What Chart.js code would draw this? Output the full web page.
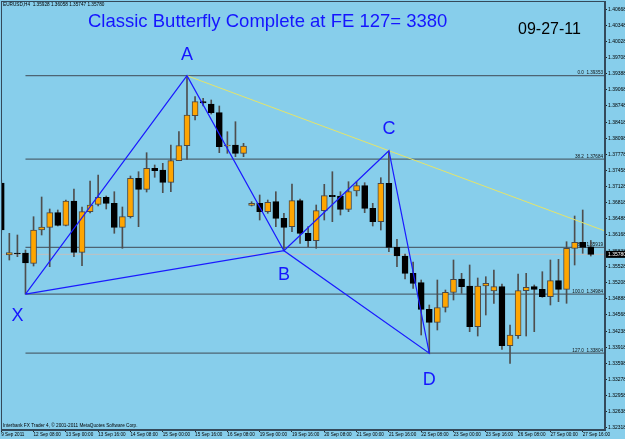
<!DOCTYPE html>
<html>
<head>
<meta charset="utf-8">
<script src="https://cdn.jsdelivr.net/npm/chart.js@4.4.0/dist/chart.umd.min.js"></script>
<style>
  html, body { margin: 0; padding: 0; background: #87ceeb; }
  #chart { display: block; }
</style>
</head>
<body>
<canvas id="chart" width="625" height="439"></canvas>
<script>
// EURUSD H4, 9 Sep 16:00 -> 27 Sep 20:00 2011 (first bar is cut by the left edge)
const opens = [1.37207, 1.35767, 1.35807, 1.35807, 1.35601, 1.36267, 1.36321, 1.36613, 1.36361, 1.36847,
  1.35821, 1.36633, 1.36781, 1.36921, 1.36801, 1.36321, 1.36533, 1.37301, 1.37081, 1.37501,
  1.37467, 1.37221, 1.37653, 1.37953, 1.38553, 1.38833, 1.38787, 1.38613, 1.37947, 1.37967,
  1.37801, 1.36761, 1.36801, 1.36633, 1.36833, 1.36501, 1.36333, 1.36853, 1.36201, 1.36053,
  1.36653, 1.36961, 1.36947, 1.36681, 1.37047, 1.37153, 1.36701, 1.36433, 1.37201, 1.35921,
  1.35747, 1.35401, 1.35213, 1.34681, 1.34421, 1.34721, 1.35021, 1.35287, 1.35147, 1.34333,
  1.35147, 1.35047, 1.35133, 1.33953, 1.34153, 1.35053, 1.35133, 1.35081, 1.34933, 1.35253,
  1.35081, 1.35901, 1.36021, 1.35928]
const highs = [1.37267, 1.36201, 1.36167, 1.35867, 1.36533, 1.36927, 1.36687, 1.36667, 1.36867, 1.37087,
  1.36727, 1.37247, 1.37367, 1.36947, 1.37033, 1.36727, 1.37347, 1.37433, 1.37813, 1.37567,
  1.37601, 1.37967, 1.38233, 1.39353, 1.38933, 1.38901, 1.38867, 1.38747, 1.38233, 1.38433,
  1.38001, 1.36833, 1.36967, 1.36867, 1.37033, 1.36601, 1.37187, 1.36887, 1.36333, 1.36767,
  1.37181, 1.37433, 1.37033, 1.37233, 1.37233, 1.37213, 1.36801, 1.37313, 1.37853, 1.36081,
  1.35787, 1.35627, 1.35267, 1.34767, 1.35267, 1.35067, 1.35667, 1.35401, 1.35567, 1.35307,
  1.35333, 1.35467, 1.35187, 1.34367, 1.35387, 1.35401, 1.35167, 1.35433, 1.35667, 1.35681,
  1.36033, 1.36547, 1.36667, 1.36058]
const lows = [1.36207, 1.35667, 1.35733, 1.34984, 1.35547, 1.36167, 1.35533, 1.36347, 1.36347, 1.35733,
  1.35553, 1.36607, 1.36747, 1.36687, 1.36201, 1.35901, 1.36507, 1.36333, 1.37027, 1.37321,
  1.37013, 1.37033, 1.37687, 1.37681, 1.38467, 1.38747, 1.38587, 1.37813, 1.37801, 1.37733,
  1.37733, 1.36747, 1.36467, 1.36601, 1.36333, 1.35853, 1.36233, 1.36001, 1.35933, 1.35901,
  1.36467, 1.36433, 1.36567, 1.36633, 1.36947, 1.36613, 1.36347, 1.36267, 1.35833, 1.35533,
  1.35287, 1.35101, 1.34167, 1.33804, 1.34267, 1.34627, 1.34867, 1.35001, 1.34233, 1.34147,
  1.34567, 1.34801, 1.33881, 1.33601, 1.34101, 1.34147, 1.34233, 1.34921, 1.34767, 1.34833,
  1.34801, 1.35567, 1.35801, 1.35747]
const closes = [1.36267, 1.35813, 1.35787, 1.35607, 1.36267, 1.36327, 1.36613, 1.36361, 1.36847, 1.35821,
  1.36633, 1.36767, 1.36921, 1.36801, 1.36321, 1.36533, 1.37301, 1.37081, 1.37501, 1.37453,
  1.37221, 1.37653, 1.37953, 1.38567, 1.38833, 1.38807, 1.38613, 1.37933, 1.37967, 1.37801,
  1.37947, 1.36801, 1.36633, 1.36821, 1.36501, 1.36321, 1.36853, 1.36201, 1.36053, 1.36653,
  1.36953, 1.36933, 1.36681, 1.37033, 1.37153, 1.36701, 1.36433, 1.37201, 1.35921, 1.35747,
  1.35401, 1.35201, 1.34681, 1.34421, 1.34713, 1.35021, 1.35281, 1.35133, 1.34333, 1.35147,
  1.35201, 1.35133, 1.33953, 1.34167, 1.35053, 1.35121, 1.35081, 1.34933, 1.35253, 1.35081,
  1.35901, 1.36021, 1.35921, 1.35780]
const firstBar = -1

// butterfly pivots: bar index and price
const pivotNames = ['X', 'A', 'B', 'C', 'D']
const pivotBars = [2, 22, 34, 47, 52]
const pivotPrices = [1.34984, 1.39353, 1.35853, 1.37853, 1.33804]

// fibo object drawn from X
const fibLevels = [0.0, 38.2, 78.6, 100.0, 127.0]
const fibPrices = [1.39353, 1.37684, 1.35919, 1.34984, 1.33804]

const xTickBars = [-1, 3, 7, 11, 15, 19, 23, 27, 31, 35, 39, 43, 47, 51, 55, 59, 63, 67, 71]
const xTickText = ['9 Sep 2011', '12 Sep 08:00', '13 Sep 00:00', '13 Sep 16:00', '14 Sep 08:00', '15 Sep 00:00',
  '15 Sep 16:00', '16 Sep 08:00', '19 Sep 00:00', '19 Sep 16:00', '20 Sep 08:00', '21 Sep 00:00',
  '21 Sep 16:00', '22 Sep 08:00', '23 Sep 00:00', '23 Sep 16:00', '26 Sep 08:00', '27 Sep 00:00', '27 Sep 16:00']
const yTicks = [1.40668, 1.40348, 1.40028, 1.39708, 1.39388, 1.39068, 1.38748, 1.38418, 1.38098, 1.37778,
  1.37458, 1.37128, 1.36818, 1.36488, 1.36168, 1.35838, 1.35528, 1.35208, 1.34888, 1.34568,
  1.34238, 1.33918, 1.33598, 1.33278, 1.32958, 1.32638, 1.32318]

const xMin = -1.031, xMax = 73.76
const yMin = 1.32267, yMax = 1.40847

const ORANGE = '#ffa500'
const bars = opens.map((o, i) => i + firstBar)
const bodies = opens.map((o, i) => ({ x: bars[i], y: [o, closes[i]] }))
const wicks = opens.map((o, i) => ({ x: bars[i], y: [lows[i], highs[i]] }))
const bull = opens.map((o, i) => closes[i] >= o)

const pv = pivotNames.map((n, i) => ({ x: pivotBars[i], y: pivotPrices[i] }))
// X-A-B-C-D, then D-B and B-X
const patternPath = [pv[0], pv[1], pv[2], pv[3], pv[4], pv[2], pv[0]]
// A-C trend line extended to the right edge
const acSlope = (pv[3].y - pv[1].y) / (pv[3].x - pv[1].x)
const acRay = [pv[1], { x: xMax, y: pv[1].y + acSlope * (xMax - pv[1].x) }]
const lastClose = closes[closes.length - 1]

const fibSets = fibPrices.map(p => ({
  type: 'line',
  data: [{ x: pivotBars[0], y: p }, { x: xMax, y: p }],
  borderColor: '#4d6473', borderWidth: 1.2, pointRadius: 0
}))

const decor = {
  id: 'decor',
  beforeDatasetsDraw(chart) {
    const { ctx, chartArea: a, scales: { y } } = chart
    ctx.save()
    ctx.font = '4.6px Arial'
    ctx.fillStyle = '#111'
    ctx.textAlign = 'right'
    fibLevels.forEach((lv, k) => {
      ctx.fillText(lv.toFixed(1) + '  ' + fibPrices[k].toFixed(5), a.right - 2, y.getPixelForValue(fibPrices[k]) - 1.5)
    })
    ctx.restore()
  },
  afterDatasetsDraw(chart) {
    const { ctx, chartArea: a, scales: { x, y } } = chart
    ctx.save()
    // frame
    ctx.strokeStyle = '#34495a'
    ctx.lineWidth = 1
    ctx.strokeRect(a.left + 0.5, a.top + 0.5, a.right - a.left - 1, a.bottom - a.top - 1)
    // pivot letters
    const offs = { X: [-8, 27], A: [0, -16], B: [0, 29], C: [0, -17], D: [0, 32] }
    ctx.font = '18px Arial'
    ctx.fillStyle = '#1515ff'
    ctx.textAlign = 'center'
    pivotNames.forEach((n, i) => {
      ctx.fillText(n, x.getPixelForValue(pivotBars[i]) + offs[n][0], y.getPixelForValue(pivotPrices[i]) + offs[n][1])
    })
    // title and date
    ctx.textAlign = 'left'
    ctx.font = '18.5px Arial'
    ctx.fillText('Classic Butterfly Complete at FE 127= 3380', 88, 27)
    ctx.fillStyle = '#000'
    ctx.font = '16px Arial'
    ctx.fillText('09-27-11', 518, 34)
    // header and footer
    ctx.font = '4.7px Arial'
    ctx.textBaseline = 'middle'
    ctx.fillText('EURUSD,H4  ' + [opens, highs, lows, closes].map(s => s[s.length - 1].toFixed(5)).join(' '), 3, 5)
    ctx.fillText('Interbank FX Trader 4, \u00a9 2001-2011 MetaQuotes Software Corp.', 3, 426)
    ctx.restore()
  },
  afterDraw(chart) {
    const { ctx, chartArea: a, scales: { y } } = chart
    const py = y.getPixelForValue(lastClose)
    ctx.save()
    ctx.fillStyle = '#000'
    ctx.fillRect(a.right + 1, py - 3.5, 20, 7)
    ctx.fillStyle = '#fff'
    ctx.font = '5px Arial'
    ctx.textBaseline = 'middle'
    ctx.fillText(lastClose.toFixed(5), a.right + 3, py)
    ctx.restore()
  }
}

new Chart(document.getElementById('chart'), {
  type: 'bar',
  data: {
    datasets: [
      { type: 'line', data: patternPath, borderColor: '#1a1aff', borderWidth: 1.2, pointRadius: 0 },
      { type: 'line', data: acRay, borderColor: '#e4e46a', borderWidth: 1, pointRadius: 0 },
      {
        data: bodies, grouped: false, barThickness: 6, minBarLength: 1, borderSkipped: false,
        backgroundColor: bull.map(b => b ? ORANGE : '#000'),
        borderColor: bull.map(b => b ? '#4a4a4a' : '#000'), borderWidth: 1
      },
      { data: wicks, grouped: false, barThickness: 1, backgroundColor: '#4e4e4e' },
      ...fibSets,
      { type: 'line', data: [{ x: xMin, y: lastClose }, { x: xMax, y: lastClose }], borderColor: '#c0c0c0', borderWidth: 1, pointRadius: 0 }
    ]
  },
  options: {
    responsive: false,
    animation: false,
    events: [],
    layout: { padding: { left: 1, top: 1, right: 0, bottom: 0 } },
    plugins: { legend: { display: false }, tooltip: { enabled: false } },
    scales: {
      x: {
        type: 'linear', min: xMin, max: xMax, offset: false,
        afterBuildTicks: s => { s.ticks = xTickBars.map(v => ({ value: v })) },
        afterFit: s => { s.height = 9; s.paddingLeft = 0; s.paddingRight = 0 },
        ticks: {
          autoSkip: false, maxRotation: 0, minRotation: 0, align: 'start', padding: 0,
          color: '#000', font: { family: 'Arial', size: 4.6 },
          callback: (v, i) => xTickText[i]
        },
        grid: { offset: false, drawOnChartArea: false, drawTicks: true, tickLength: 2, color: '#222' },
        border: { display: true, color: '#34495a', width: 1 }
      },
      y: {
        position: 'right', min: yMin, max: yMax,
        afterBuildTicks: s => { s.ticks = yTicks.map(v => ({ value: v })) },
        afterFit: s => { s.width = 20; s.paddingTop = 0; s.paddingBottom = 0 },
        ticks: {
          autoSkip: false, padding: 1, color: '#000', font: { family: 'Arial', size: 5 },
          callback: v => v.toFixed(5)
        },
        grid: { drawOnChartArea: false, drawTicks: true, tickLength: 2, color: '#222' },
        border: { display: true, color: '#34495a', width: 1 }
      }
    }
  },
  plugins: [decor]
})
</script>
</body>
</html>
